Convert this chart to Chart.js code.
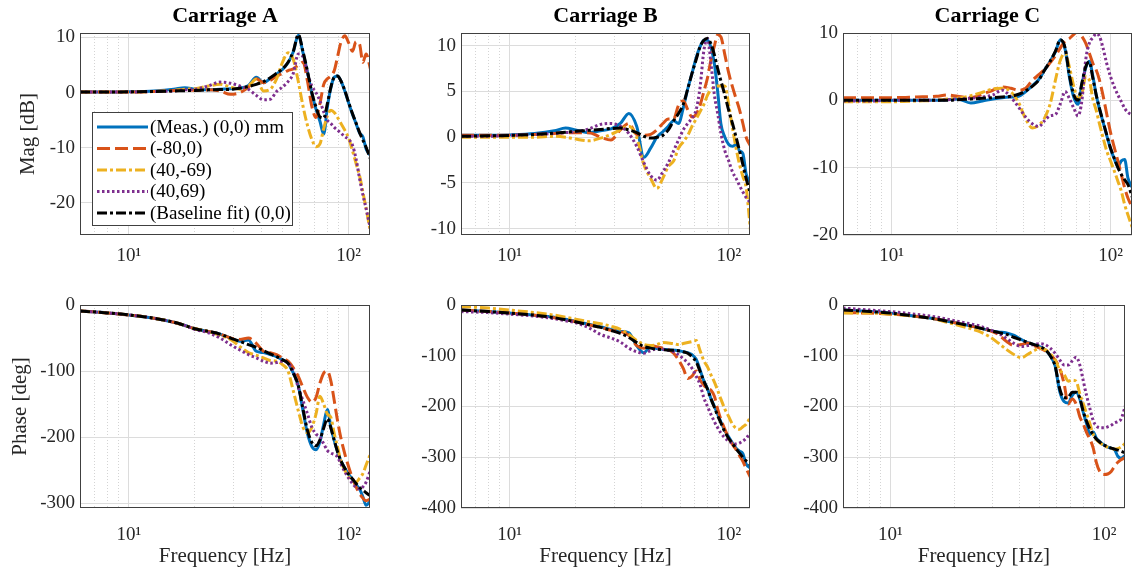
<!DOCTYPE html>
<html>
<head>
<meta charset="utf-8">
<script src="https://cdn.jsdelivr.net/npm/chart.js@4.4.1/dist/chart.umd.min.js"></script>
<style>
  html, body { margin: 0; padding: 0; background: #fff; }
  body { width: 1133px; height: 578px; position: relative; overflow: hidden; }
  canvas { position: absolute; }
</style>
</head>
<body>
<canvas id="magA" width="380" height="270" style="left:0;top:0"></canvas>
<canvas id="magB" width="375" height="270" style="left:385px;top:0"></canvas>
<canvas id="magC" width="368" height="270" style="left:765px;top:0"></canvas>
<canvas id="phA" width="380" height="298" style="left:0;top:280px"></canvas>
<canvas id="phB" width="375" height="298" style="left:385px;top:280px"></canvas>
<canvas id="phC" width="368" height="298" style="left:765px;top:280px"></canvas>
<script>
// frequency points [Hz]
var freq = [6, 8, 10, 13, 16, 18, 20, 23, 26, 29, 32, 35, 38, 41, 44, 47, 50, 53, 56, 59,
  62, 65, 68, 71, 74, 77, 80, 83, 86, 89, 92, 96, 100, 104, 108, 112, 116, 120, 126];
var seriesNames = ["(Meas.) (0,0) mm", "(-80,0)", "(40,-69)", "(40,69)", "(Baseline fit) (0,0)"];
var titles = ["Carriage A", "Carriage B", "Carriage C"];
var majorFreq = [10, 100];
var minorFreq = [6, 7, 8, 9, 20, 30, 40, 50, 60, 70, 80, 90];
var magTicksA = [-20, -10, 0, 10];
var magTicksB = [-10, -5, 0, 5, 10];
var magTicksC = [-20, -10, 0, 10];
var phTicksA = [-300, -200, -100, 0];
var phTicksBC = [-400, -300, -200, -100, 0];

// magnitude [dB]
var magA_meas = [0.1, 0.1, 0.15, 0.3, 0.6, 0.9, 0.6, 0.5, 0.6, 0.7, 0.8, 1.3, 2.8, 1.8, 2.6, 3.4, 4.2, 5.4, 7.4, 10.4, 7.2, 3.6, -0.2, -3.0, -5.2, -7.5, -2.6, 0.9, 2.8, 3.0, 2.2, 0.3, -1.9, -3.9, -5.6, -7.3, -8.0, -10.2, -11.5];
var magA_m80 = [0.1, 0.1, 0.1, 0.2, 0.4, 0.5, 0.4, 0.5, 0.3, -0.3, 0.0, 1.0, 2.5, 1.8, 2.2, 3.0, 3.5, 4.0, 4.3, 5.0, 5.5, 2.0, -2.5, -4.5, -2.0, 1.5, 2.5, 3.0, 4.0, 6.5, 9.0, 10.3, 9.0, 7.5, 9.2, 8.8, 5.5, 7.0, 4.0];
var magA_40m69 = [0.1, 0.1, 0.1, 0.2, 0.4, 0.6, 0.7, 1.2, 1.5, 1.0, 0.6, 1.2, 2.4, 0.3, 0.6, 2.5, 5.5, 7.2, 6.0, 2.0, -2.5, -6.0, -8.5, -9.8, -9.3, -6.5, -4.2, -3.2, -3.6, -4.5, -5.5, -6.8, -8.3, -10.5, -12.8, -15.0, -18.0, -21.0, -25.5];
var magA_40p69 = [0.1, 0.1, 0.1, 0.2, 0.3, 0.5, 0.6, 1.2, 1.9, 1.7, 1.2, 0.6, -0.5, -1.3, -1.2, 0.2, 1.0, 2.0, 3.5, 7.0, 6.5, 3.5, 1.2, 0.0, -1.5, -3.5, -5.0, -5.6, -6.3, -6.8, -7.3, -8.0, -8.5, -9.5, -12.0, -15.5, -18.5, -21.0, -25.0];
var magA_fit = [0.1, 0.1, 0.15, 0.2, 0.3, 0.35, 0.4, 0.5, 0.55, 0.6, 0.8, 1.1, 1.5, 2.0, 2.7, 3.5, 4.3, 5.5, 7.5, 10.5, 7.4, 3.8, 0.0, -2.6, -4.4, -4.6, -2.0, 1.0, 2.8, 3.0, 2.2, 0.4, -1.8, -3.8, -5.5, -7.2, -8.6, -9.9, -12.2];

var magB_meas = [0.2, 0.2, 0.25, 0.4, 0.7, 1.0, 0.8, 0.5, 0.7, 0.9, 1.5, 2.6, 1.2, -2.2, -1.2, 0.0, 0.6, 1.2, 1.8, 1.5, 3.2, 5.3, 7.0, 8.7, 9.9, 10.6, 10.6, 9.8, 8.0, 5.0, 1.5, 0.0, -0.8, -1.0, -0.8, -1.5, -1.8, -4.0, -5.0];
var magB_m80 = [0.2, 0.2, 0.2, 0.3, 0.4, 0.5, 0.5, 0.5, 0.0, -0.3, 0.8, 1.5, 0.3, 0.2, 0.3, 0.8, 1.5, 2.0, 2.0, 3.5, 4.0, 3.0, 2.2, 2.5, 3.5, 5.0, 6.5, 8.5, 10.0, 11.2, 11.0, 9.0, 7.0, 5.5, 4.2, 3.0, 1.5, 0.0, -1.0];
var magB_40m69 = [0.0, 0.0, 0.0, 0.0, 0.1, 0.0, -0.2, -0.4, -0.1, 0.3, 0.8, 1.2, 0.0, -3.0, -4.5, -5.6, -4.5, -3.2, -2.6, -1.2, -0.5, 0.2, 1.2, 2.0, 2.8, 3.6, 4.6, 5.2, 5.5, 5.6, 5.6, 5.6, 3.5, 1.0, -1.2, -3.0, -4.3, -5.5, -10.5];
var magB_40p69 = [0.1, 0.1, 0.2, 0.3, 0.4, 0.5, 0.6, 0.9, 1.4, 1.5, 1.2, 0.4, -1.0, -2.8, -4.2, -4.7, -3.8, -2.8, -1.5, -0.3, 0.8, 1.5, 2.1, 3.0, 5.5, 9.5, 10.8, 8.0, 4.6, 2.6, 0.5, -1.5, -2.6, -3.8, -4.5, -5.3, -6.0, -6.6, -7.2];
var magB_fit = [0.1, 0.15, 0.2, 0.3, 0.45, 0.55, 0.65, 0.75, 0.85, 0.95, 1.0, 0.8, 0.5, 0.1, -0.1, 0.0, 0.2, 0.8, 1.8, 2.6, 3.6, 5.3, 7.0, 8.5, 9.9, 10.6, 10.8, 10.2, 9.0, 7.5, 6.2, 4.6, 2.9, 1.5, 0.0, -1.5, -3.0, -4.5, -6.3];

var magC_meas = [0.0, 0.0, 0.0, 0.0, 0.0, 0.1, 0.2, -0.4, -0.1, 0.2, 0.4, 0.5, 0.6, 1.3, 2.2, 3.1, 4.5, 5.8, 7.2, 9.0, 7.6, 3.3, 0.4, -0.6, 2.4, 4.8, 5.8, 3.6, 0.8, -1.3, -3.0, -5.2, -7.2, -8.7, -9.8, -9.0, -8.8, -11.5, -13.0];
var magC_m80 = [0.4, 0.4, 0.4, 0.5, 0.6, 0.8, 0.6, 0.4, 0.9, 1.5, 2.0, 1.8, 1.5, 1.8, 3.0, 3.8, 4.6, 5.6, 6.6, 7.8, 8.8, 9.2, 9.8, 10.2, 9.5, 8.5, 7.0, 5.5, 4.5, 3.0, 1.0, -2.0, -4.8, -7.0, -9.0, -11.0, -13.0, -14.5, -16.0];
var magC_40m69 = [-0.2, -0.2, -0.2, -0.1, 0.0, 0.2, 0.3, 0.7, 1.2, 1.7, 1.8, 1.3, -0.3, -2.8, -4.1, -3.7, -2.6, -0.5, 3.0, 6.0, 7.0, 4.8, 2.0, 0.2, 1.0, 3.5, 3.0, 0.2, -1.5, -3.5, -5.3, -7.5, -9.0, -10.5, -12.0, -13.5, -15.5, -17.0, -19.0];
var magC_40p69 = [-0.1, -0.1, 0.0, 0.0, 0.0, 0.1, 0.2, 0.3, 0.5, 0.8, 1.5, 0.5, -1.0, -2.5, -3.5, -3.9, -3.0, -2.3, -2.1, -0.5, 1.3, 0.2, -1.2, -2.3, 0.0, 6.0, 8.5, 9.3, 9.9, 9.5, 8.0, 5.5, 3.5, 2.0, 0.8, -0.2, -1.2, -1.8, -2.2];
var magC_fit = [0.0, 0.0, 0.0, 0.0, 0.0, 0.0, 0.1, 0.2, 0.3, 0.4, 0.5, 0.6, 0.9, 1.4, 2.1, 3.0, 4.5, 5.8, 7.3, 9.0, 7.8, 3.6, 0.8, 0.0, 2.6, 5.0, 5.7, 3.3, 0.8, -1.2, -2.9, -5.1, -7.1, -8.6, -10.0, -11.0, -11.8, -12.5, -14.5];

// phase [deg]
var phA_meas = [-9, -12, -15, -20, -26, -31, -36, -40, -44, -50, -55, -53, -70, -72, -75, -78, -83, -88, -103, -122, -160, -195, -214, -219, -207, -180, -158, -185, -205, -222, -235, -247, -256, -264, -272, -278, -290, -303, -295];
var phA_m80 = [-9, -12, -15, -20, -26, -31, -36, -40, -44, -50, -52, -50, -58, -70, -72, -75, -80, -85, -95, -108, -125, -140, -147, -140, -118, -103, -100, -115, -145, -175, -200, -225, -245, -262, -275, -285, -292, -296, -293];
var phA_40m69 = [-9, -12, -15, -20, -26, -31, -36, -40, -46, -52, -63, -72, -76, -80, -84, -85, -90, -100, -130, -160, -185, -193, -185, -165, -138, -150, -165, -170, -195, -215, -235, -250, -260, -266, -268, -262, -255, -242, -224];
var phA_40p69 = [-9, -12, -15, -20, -26, -31, -37, -42, -50, -60, -68, -75, -80, -85, -88, -87, -85, -88, -100, -125, -145, -165, -185, -195, -200, -210, -220, -224, -226, -230, -240, -252, -262, -270, -276, -278, -275, -268, -248];
var phA_fit = [-9, -12, -15, -20, -26, -31, -36, -40, -44, -50, -55, -60, -64, -69, -74, -78, -83, -88, -103, -122, -158, -190, -208, -213, -204, -186, -172, -186, -205, -222, -235, -247, -256, -263, -270, -276, -280, -284, -289];

var phB_meas = [-10, -13, -16, -20, -24, -28, -32, -38, -43, -48, -52, -55, -80, -94, -82, -86, -87, -88, -89, -90, -92, -94, -98, -107, -128, -150, -165, -185, -200, -215, -230, -248, -260, -272, -282, -288, -293, -313, -322];
var phB_m80 = [-10, -13, -16, -20, -25, -29, -33, -39, -44, -50, -52, -60, -80, -85, -80, -82, -85, -88, -95, -108, -125, -145, -140, -130, -148, -158, -165, -168, -180, -205, -225, -245, -262, -275, -285, -297, -308, -322, -341];
var phB_40m69 = [-3, -6, -10, -15, -20, -24, -28, -33, -37, -42, -48, -58, -70, -78, -80, -78, -74, -75, -76, -78, -76, -74, -72, -70, -90, -110, -122, -138, -152, -168, -185, -205, -220, -235, -243, -245, -240, -235, -220];
var phB_40p69 = [-13, -15, -18, -22, -27, -31, -35, -45, -58, -65, -73, -85, -92, -95, -90, -86, -87, -89, -92, -98, -106, -114, -125, -140, -157, -183, -200, -216, -230, -242, -252, -262, -268, -272, -274, -272, -268, -263, -250];
var phB_fit = [-10, -13, -16, -20, -25, -29, -33, -39, -44, -50, -56, -64, -74, -82, -85, -87, -88, -89, -89, -90, -92, -95, -102, -112, -131, -150, -166, -185, -202, -218, -232, -250, -263, -273, -283, -292, -300, -307, -315];

var phC_meas = [-10, -13, -16, -22, -27, -31, -35, -40, -45, -50, -53, -55, -60, -68, -74, -78, -82, -88, -100, -120, -170, -190, -193, -178, -172, -185, -212, -235, -255, -250, -262, -270, -276, -280, -282, -285, -298, -302, -296];
var phC_m80 = [-15, -16, -18, -22, -27, -31, -35, -40, -45, -50, -58, -72, -80, -78, -75, -80, -85, -90, -98, -108, -125, -155, -195, -185, -195, -220, -235, -252, -265, -282, -310, -330, -334, -333, -328, -318, -310, -305, -300];
var phC_40m69 = [-16, -16, -18, -22, -27, -33, -38, -45, -52, -62, -75, -88, -98, -104, -97, -90, -85, -88, -96, -108, -128, -137, -150, -148, -150, -175, -195, -215, -235, -255, -265, -272, -277, -280, -282, -284, -283, -280, -272];
var phC_40p69 = [-6, -10, -13, -18, -23, -27, -31, -36, -41, -48, -56, -66, -76, -82, -80, -78, -76, -78, -85, -95, -108, -118, -118, -110, -103, -118, -150, -180, -205, -228, -238, -242, -242, -240, -237, -232, -230, -225, -198];
var phC_fit = [-10, -13, -16, -22, -27, -31, -35, -40, -45, -50, -54, -58, -64, -69, -74, -78, -82, -88, -100, -120, -165, -183, -182, -172, -172, -183, -210, -230, -245, -256, -264, -271, -276, -279, -282, -284, -286, -288, -292];

// line styles, matlab default order
var lineColors = ["#0072BD", "#D95319", "#EDB120", "#7E2F8E", "#000000"];
var lineDash = [[], [13, 5], [10, 3, 3, 3], [2.5, 2.5], [10, 3, 3, 3]];
var lineWidth = [3, 3, 3, 3, 3];

Chart.defaults.font.family = '"Liberation Serif", "Times New Roman", serif';
Chart.defaults.color = "#262626";

var frame = {
  id: "frame",
  afterDraw: function (chart) {
    var a = chart.chartArea, c = chart.ctx;
    c.save();
    c.strokeStyle = "#404040";
    c.lineWidth = 1;
    c.strokeRect(Math.round(a.left) + 0.5, Math.round(a.top) + 0.5, Math.round(a.right - a.left) - 1, Math.round(a.bottom - a.top) - 1);
    c.restore();
  }
};

// legend box drawn inside the first magnitude axes
var legendBox = {
  id: "legendBox",
  afterDatasetsDraw: function (chart) {
    var a = chart.chartArea, c = chart.ctx;
    var x = a.left + 12, y = a.top + 79, w = 200, h = 113;
    c.save();
    c.fillStyle = "#fff";
    c.fillRect(x, y, w, h);
    c.strokeStyle = "#404040";
    c.lineWidth = 1;
    c.strokeRect(x + 0.5, y + 0.5, w, h);
    c.font = '19px "Liberation Serif"';
    c.textBaseline = "middle";
    chart.data.datasets.forEach(function (ds, i) {
      var cy = y + 15 + i * 21.5;
      c.strokeStyle = ds.borderColor;
      c.lineWidth = ds.borderWidth;
      c.setLineDash(ds.borderDash);
      c.beginPath();
      c.moveTo(x + 5, cy);
      c.lineTo(x + 56, cy);
      c.stroke();
      c.setLineDash([]);
      c.fillStyle = "#000";
      c.fillText(ds.label, x + 58, cy + 1);
    });
    c.restore();
  }
};

function makePanel(id, values, o) {
  var datasets = values.map(function (vals, i) {
    return {
      label: seriesNames[i],
      data: freq.map(function (f, k) { return { x: f, y: vals[k] }; }),
      borderColor: lineColors[i],
      borderWidth: lineWidth[i],
      borderDash: lineDash[i],
      pointRadius: 0,
      cubicInterpolationMode: "monotone",
      fill: false,
      clip: 0,
      order: 5 - i
    };
  });
  new Chart(document.getElementById(id), {
    type: "line",
    data: { datasets: datasets },
    options: {
      responsive: false,
      animation: false,
      events: [],
      layout: { padding: { left: 0, right: o.padRight, top: o.padTop, bottom: 0 } },
      plugins: {
        legend: { display: false },
        tooltip: { enabled: false },
        title: {
          display: !!o.title,
          text: o.title,
          fullSize: false,
          color: "#000",
          font: { size: 22, weight: "bold" },
          padding: { top: 3, bottom: 3.6 }
        }
      },
      scales: {
        x: {
          type: "logarithmic",
          min: 6, max: 125, bounds: "data",
          afterBuildTicks: function (s) { s.ticks = majorFreq.map(function (v) { return { value: v }; }); },
          afterFit: function (s) { s.height = o.xHeight; },
          ticks: {
            autoSkip: false, maxRotation: 0, padding: o.xTickPad,
            font: { size: 19 },
            callback: function (v) { return v === 10 ? "10\u00b9" : v === 100 ? "10\u00b2" : ""; }
          },
          grid: { color: "#dcdcdc", lineWidth: 1, drawTicks: false },
          border: { display: false },
          title: { display: !!o.xTitle, text: o.xTitle, color: "#262626", font: { size: 21 }, padding: { top: 0, bottom: 9 } }
        },
        xm: {
          type: "logarithmic",
          position: "bottom",
          min: 6, max: 125, bounds: "data",
          afterBuildTicks: function (s) { s.ticks = minorFreq.map(function (v) { return { value: v }; }); },
          afterFit: function (s) { s.height = 0; },
          ticks: { display: false },
          grid: { color: "#d4d4d4", lineWidth: 1, drawTicks: false },
          border: { display: false, dash: [1, 2] }
        },
        y: {
          min: o.yMin, max: o.yMax, bounds: "data",
          afterBuildTicks: function (s) { s.ticks = o.yTicks.map(function (v) { return { value: v }; }); },
          afterFit: function (s) { s.width = o.yWidth; },
          ticks: { autoSkip: false, padding: 5, font: { size: 19 } },
          grid: { color: "#dcdcdc", lineWidth: 1, drawTicks: false },
          border: { display: false },
          title: { display: !!o.yTitle, text: o.yTitle, color: "#262626", font: { size: 21 }, padding: { top: o.yTitlePad || 0, bottom: 0 } }
        }
      }
    },
    plugins: o.legend ? [legendBox, frame] : [frame]
  });
}

var rowTop = { padTop: 0, xHeight: 35, xTickPad: 10 };
var rowBot = { padTop: 25, xHeight: 70, xTickPad: 16, xTitle: "Frequency [Hz]" };

makePanel("magA", [magA_meas, magA_m80, magA_40m69, magA_40p69, magA_fit],
  Object.assign({}, rowTop, { title: titles[0], padRight: 10, yWidth: 80, yMin: -25.8, yMax: 10.8, yTicks: magTicksA, yTitle: "Mag [dB]", yTitlePad: 16, legend: true }));
makePanel("magB", [magB_meas, magB_m80, magB_40m69, magB_40p69, magB_fit],
  Object.assign({}, rowTop, { title: titles[1], padRight: 10, yWidth: 76, yMin: -10.7, yMax: 11.4, yTicks: magTicksB }));
makePanel("magC", [magC_meas, magC_m80, magC_40m69, magC_40p69, magC_fit],
  Object.assign({}, rowTop, { title: titles[2], padRight: 1, yWidth: 78, yMin: -20, yMax: 10, yTicks: magTicksC }));
makePanel("phA", [phA_meas, phA_m80, phA_40m69, phA_40p69, phA_fit],
  Object.assign({}, rowBot, { padRight: 10, yWidth: 80, yMin: -307, yMax: 0, yTicks: phTicksA, yTitle: "Phase [deg]", yTitlePad: 8 }));
makePanel("phB", [phB_meas, phB_m80, phB_40m69, phB_40p69, phB_fit],
  Object.assign({}, rowBot, { padRight: 10, yWidth: 76, yMin: -400, yMax: 0, yTicks: phTicksBC }));
makePanel("phC", [phC_meas, phC_m80, phC_40m69, phC_40p69, phC_fit],
  Object.assign({}, rowBot, { padRight: 1, yWidth: 78, yMin: -400, yMax: 0, yTicks: phTicksBC }));
</script>
</body>
</html>
